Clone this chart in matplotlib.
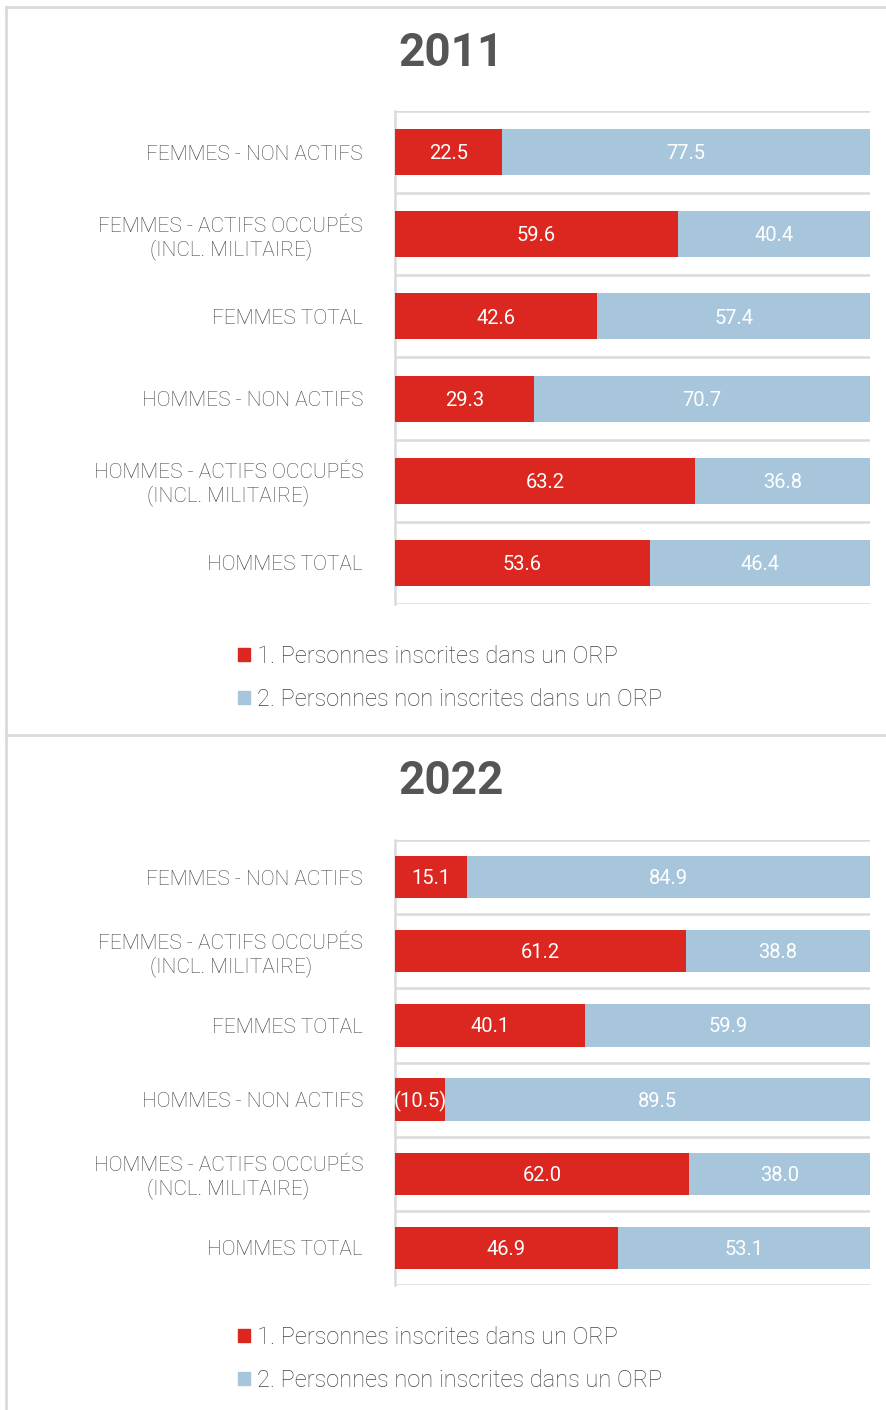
import matplotlib.pyplot as plt
from matplotlib.lines import Line2D
from matplotlib.patches import Patch

categories = [
    "FEMMES - NON ACTIFS",
    "FEMMES - ACTIFS OCCUPÉS\n(INCL. MILITAIRE)",
    "FEMMES TOTAL",
    "HOMMES - NON ACTIFS",
    "HOMMES - ACTIFS OCCUPÉS\n(INCL. MILITAIRE)",
    "HOMMES TOTAL",
]
series_names = [
    "1. Personnes inscrites dans un ORP",
    "2. Personnes non inscrites dans un ORP",
]

inscrits_2011 = [22.5, 59.6, 42.6, 29.3, 63.2, 53.6]
non_inscrits_2011 = [77.5, 40.4, 57.4, 70.7, 36.8, 46.4]
inscrits_2022 = [15.1, 61.2, 40.1, 10.5, 62.0, 46.9]
non_inscrits_2022 = [84.9, 38.8, 59.9, 89.5, 38.0, 53.1]
# values shown in brackets (low reliability)
bracket_2022 = [False, False, False, True, False, False]
bracket_2011 = [False] * 6

RED = "#db2720"
BLUE = "#a7c6db"
GRID = "#dadada"
TXT = "#444444"
FONT = "Roboto"

W, H = 887, 1410


def fx(px):
    return px / W


def fy(py):
    return 1 - py / H


def fmt(v, br):
    s = f"{v:.1f}"
    return f"({s})" if br else s


def draw_panel(fig, top, bottom, title, title_y, legend_y, red_vals, blue_vals, brackets, bar_h):
    ax = fig.add_axes([fx(395), fy(bottom), fx(870) - fx(395), fy(top) - fy(bottom)])
    y = list(range(len(categories)))
    ax.barh(y, red_vals, height=bar_h, color=RED, zorder=3)
    ax.barh(y, blue_vals, left=red_vals, height=bar_h, color=BLUE, zorder=3)
    for i in y:
        ax.text(red_vals[i] / 2, i + 0.02, fmt(red_vals[i], brackets[i]), ha="center",
                va="center", color="white", fontsize=14.5, family=FONT, zorder=4)
        ax.text(red_vals[i] + blue_vals[i] / 2, i + 0.02, fmt(blue_vals[i], False), ha="center",
                va="center", color="white", fontsize=14.5, family=FONT, zorder=4)
    ax.set_xlim(0, 100)
    ax.set_ylim(len(categories) - 0.5, -0.5)
    for b in [i - 0.5 for i in range(len(categories) + 1)]:
        ax.axhline(b, color=GRID, lw=1.8, zorder=1)
    ax.set_yticks(y)
    ax.set_yticklabels(categories, fontsize=15, family=FONT, fontweight="light", color=TXT,
                       linespacing=1.2)
    for lbl in ax.get_yticklabels():
        lbl.set_multialignment("center")
    ax.tick_params(axis="y", length=0, pad=23)
    ax.set_xticks([])
    for s in ["top", "right", "bottom"]:
        ax.spines[s].set_visible(False)
    ax.spines["left"].set_color(GRID)
    ax.spines["left"].set_linewidth(1.8)

    fig.text(fx(451), fy(title_y), title, ha="center", va="center", fontsize=33,
             fontweight="bold", family=FONT, color="#555555")

    handles = [Patch(color=RED, label=series_names[0]), Patch(color=BLUE, label=series_names[1])]
    leg = fig.legend(handles=handles, loc="center left", bbox_to_anchor=(fx(238), fy(legend_y)),
                     frameon=False, borderpad=0, borderaxespad=0, handlelength=0.5,
                     handleheight=0.5, handletextpad=0.3, labelspacing=0.85,
                     prop={"family": FONT, "weight": "light", "size": 17})
    for t in leg.get_texts():
        t.set_color(TXT)
    return ax


fig = plt.figure(figsize=(W / 100, H / 100), dpi=100)

draw_panel(fig, 111, 604, "2011", 53, 678, inscrits_2011, non_inscrits_2011, bracket_2011, 0.56)
draw_panel(fig, 840, 1285, "2022", 781, 1359, inscrits_2022, non_inscrits_2022, bracket_2022, 0.57)

# outer frame lines
frame = dict(color=GRID, lw=2, transform=fig.transFigure)
fig.lines.append(Line2D([fx(6), 1], [fy(7), fy(7)], **frame))
fig.lines.append(Line2D([fx(6), fx(6)], [fy(7), 0], **frame))
fig.lines.append(Line2D([fx(6), 1], [fy(735), fy(735)], **frame))

fig.savefig("out.png", dpi=100)
